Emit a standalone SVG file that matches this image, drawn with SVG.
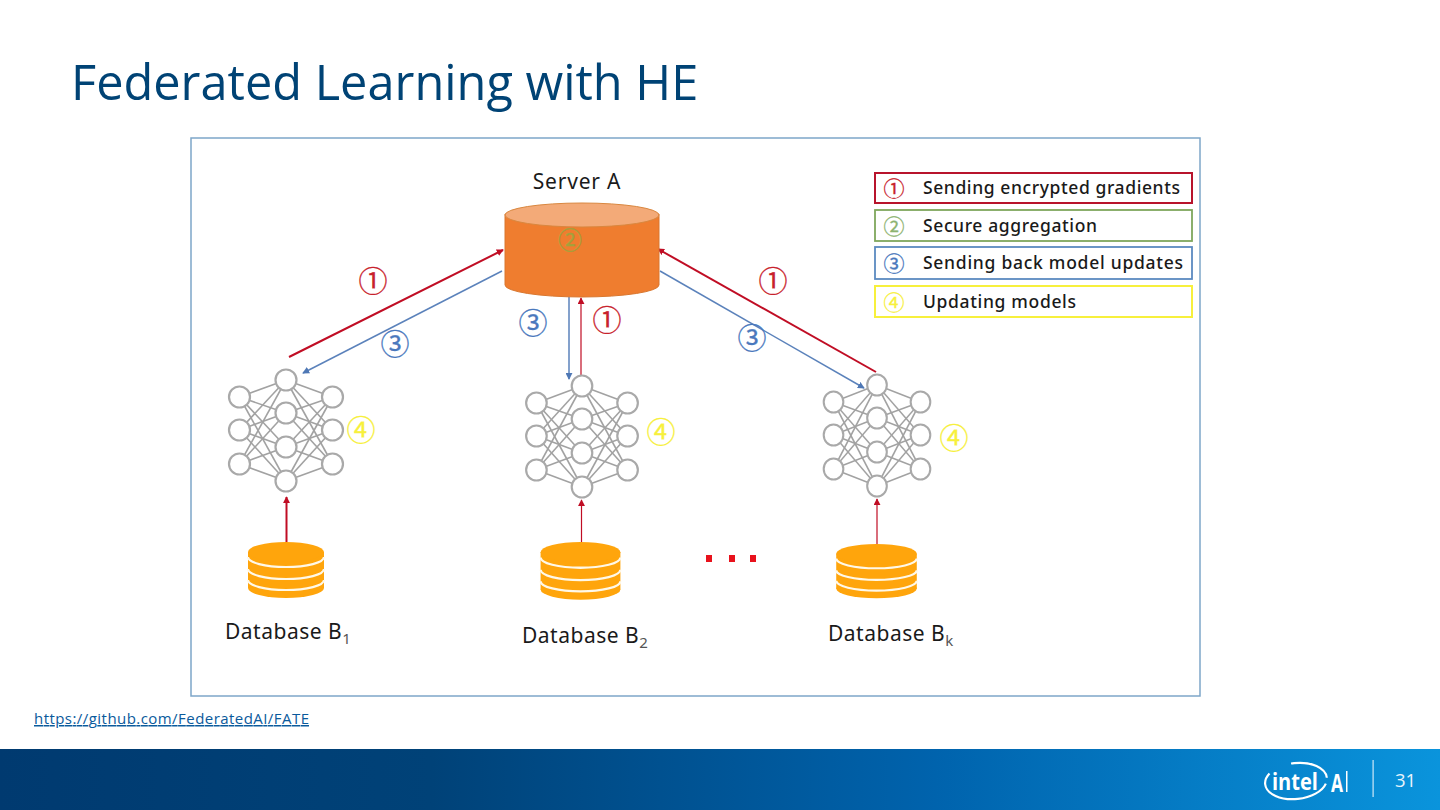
<svg xmlns="http://www.w3.org/2000/svg" width="1440" height="810" viewBox="0 0 1440 810">
<style>
.t{font-family:"Open Sans","Noto Sans",sans-serif}
.l{font-family:"Noto Sans","Open Sans",sans-serif;fill:#1a1a1a}
.lg{font-family:"Noto Sans","Open Sans",sans-serif;fill:#1a1a1a;font-size:17.5px;font-weight:500}
.c{font-family:"Noto Sans CJK SC","DejaVu Sans",sans-serif;text-anchor:middle;stroke-width:.3}
.c1{fill:#c8222c;stroke:#c8222c}.c2{fill:#8db36f;stroke:#8db36f}.c3{fill:#4a78bd;stroke:#4a78bd}.c4{fill:#f7f03c;stroke:#f7f03c}
.red{stroke:#c00d24;fill:none}
.blue{stroke:#5b82bb;fill:none}
.nn line{stroke:#a2a2a2;stroke-width:1.600}
.nn circle{fill:#fff;stroke:#a9a9a9;stroke-width:2.200}
.disk{fill:#ffa50c}
.gap{fill:none;stroke:#fff8e8;stroke-width:2.200}
</style>
<defs>
<linearGradient id="bar" x1="0" x2="1" y1="0" y2="0">
<stop offset="0" stop-color="#003a70"/><stop offset=".3" stop-color="#004278"/><stop offset=".65" stop-color="#0063ad"/><stop offset="1" stop-color="#0a94dc"/>
</linearGradient>
<marker id="ar" viewBox="0 0 8 8" refX="7" refY="4" markerWidth="7" markerHeight="7" markerUnits="userSpaceOnUse" orient="auto"><path d="M0 0L8 4L0 8Z" fill="#c00d24"/></marker>
<marker id="ab" viewBox="0 0 8 8" refX="7" refY="4" markerWidth="7" markerHeight="7" markerUnits="userSpaceOnUse" orient="auto"><path d="M0 0L8 4L0 8Z" fill="#4f78b5"/></marker>
<g id="net" class="nn">
<line x1="-46.500" y1="-33" x2="0" y2="-50"/><line x1="-46.500" y1="-33" x2="0" y2="-17"/><line x1="-46.500" y1="-33" x2="0" y2="17"/><line x1="-46.500" y1="-33" x2="0" y2="51"/>
<line x1="-46.500" y1="0" x2="0" y2="-50"/><line x1="-46.500" y1="0" x2="0" y2="-17"/><line x1="-46.500" y1="0" x2="0" y2="17"/><line x1="-46.500" y1="0" x2="0" y2="51"/>
<line x1="-46.500" y1="34" x2="0" y2="-50"/><line x1="-46.500" y1="34" x2="0" y2="-17"/><line x1="-46.500" y1="34" x2="0" y2="17"/><line x1="-46.500" y1="34" x2="0" y2="51"/>
<line x1="46.500" y1="-33" x2="0" y2="-50"/><line x1="46.500" y1="-33" x2="0" y2="-17"/><line x1="46.500" y1="-33" x2="0" y2="17"/><line x1="46.500" y1="-33" x2="0" y2="51"/>
<line x1="46.500" y1="0" x2="0" y2="-50"/><line x1="46.500" y1="0" x2="0" y2="-17"/><line x1="46.500" y1="0" x2="0" y2="17"/><line x1="46.500" y1="0" x2="0" y2="51"/>
<line x1="46.500" y1="34" x2="0" y2="-50"/><line x1="46.500" y1="34" x2="0" y2="-17"/><line x1="46.500" y1="34" x2="0" y2="17"/><line x1="46.500" y1="34" x2="0" y2="51"/>
<circle cx="-46.500" cy="-33" r="10.500"/><circle cx="-46.500" cy="0" r="10.500"/><circle cx="-46.500" cy="34" r="10.500"/>
<circle cx="0" cy="-50" r="10.500"/><circle cx="0" cy="-17" r="10.500"/><circle cx="0" cy="17" r="10.500"/><circle cx="0" cy="51" r="10.500"/>
<circle cx="46.500" cy="-33" r="10.500"/><circle cx="46.500" cy="0" r="10.500"/><circle cx="46.500" cy="34" r="10.500"/>
</g>
<g id="db">
<ellipse class="disk" cx="0" cy="46" rx="38" ry="10"/>
<rect class="disk" x="-38" y="10" width="76" height="36"/>
<ellipse class="disk" cx="0" cy="10" rx="38" ry="10"/>
<path class="gap" d="M-38 15A38 10 0 0 0 38 15"/>
<path class="gap" d="M-38 27A38 10 0 0 0 38 27"/>
<path class="gap" d="M-38 38A38 10 0 0 0 38 38"/>
</g>
</defs>
<rect width="1440" height="810" fill="#fff"/>
<text class="t" x="71" y="100" font-size="48.700" fill="#004375">Federated Learning with HE</text>
<rect id="frame" x="191" y="138" width="1009" height="558" fill="#fff" stroke="#7ea6c9" stroke-width="1.500"/>

<g id="connectors">
<path class="red" stroke-width="2" d="M289 357L503 250" marker-end="url(#ar)"/>
<path class="blue" stroke-width="1.500" d="M502 271L303 373" marker-end="url(#ab)"/>
<path class="blue" stroke-width="1.500" d="M569 297V379" marker-end="url(#ab)"/>
<path class="red" stroke-width="1.200" d="M581 375V298" marker-end="url(#ar)"/>
<path class="red" stroke-width="2" d="M876 372L658 249" marker-end="url(#ar)"/>
<path class="blue" stroke-width="1.500" d="M660 271L864 388" marker-end="url(#ab)"/>
<path class="red" stroke-width="2" d="M286.500 542V497" marker-end="url(#ar)"/>
<path class="red" stroke-width="1.200" d="M581.500 542V500" marker-end="url(#ar)"/>
<path class="red" stroke-width="1.200" d="M877 544V499" marker-end="url(#ar)"/>
</g>

<g id="server-a">
<text class="l" x="577" y="189" font-size="21" text-anchor="middle" letter-spacing=".8">Server A</text>
<path d="M505 214V285A77 12 0 0 0 659 285V214Z" fill="#ef7d2f" stroke="#d9772f"/>
<ellipse cx="582" cy="215" rx="77" ry="12" fill="#f3aa78" stroke="#d9873f"/>
<text class="c" x="570" y="249" font-size="24" fill="#a4a13c" stroke="#a4a13c">②</text>
</g>

<g id="node-b1">
<use href="#net" x="286" y="430"/>
<use href="#db" x="286" y="542"/>
<text class="l" x="225" y="639" font-size="21" letter-spacing=".5">Database B<tspan font-size="15" dy="5" fill="#555">1</tspan></text>
</g>
<g id="node-b2">
<use href="#net" transform="translate(582 436) scale(.98 1)"/>
<use href="#db" transform="translate(580.500 542) scale(1.050 1.030)"/>
<text class="l" x="522" y="643" font-size="21" letter-spacing=".5">Database B<tspan font-size="15" dy="5" fill="#555">2</tspan></text>
</g>
<g id="node-bk">
<use href="#net" transform="translate(877 435) scale(.935 1)"/>
<use href="#db" transform="translate(876.500 544) scale(1.060 .97)"/>
<text class="l" x="828" y="641" font-size="21" letter-spacing=".5">Database B<tspan font-size="15" dy="5" fill="#555">k</tspan></text>
</g>

<g id="connector-labels">
<text class="c c1" x="373" y="292" font-size="29">①</text>
<text class="c c3" x="395" y="355" font-size="29">③</text>
<text class="c c3" x="533" y="334" font-size="29">③</text>
<text class="c c1" x="607" y="331" font-size="29">①</text>
<text class="c c1" x="773" y="292" font-size="29">①</text>
<text class="c c3" x="752" y="349" font-size="29">③</text>
<text class="c c4" x="361" y="441" font-size="29">④</text>
<text class="c c4" x="661" y="443" font-size="29">④</text>
<text class="c c4" x="954" y="449" font-size="29">④</text>
</g>

<g id="dots" fill="#e8121c">
<rect x="706" y="555" width="6" height="7"/><rect x="729" y="555" width="6" height="7"/><rect x="750" y="555" width="6" height="7"/>
</g>

<g id="legend">
<g id="legend-1"><rect x="875" y="173" width="317" height="30" fill="#fff" stroke="#b8142c" stroke-width="2"/>
<text class="c c1" x="894" y="196" font-size="21">①</text><text class="lg" x="923" y="194" textLength="257">Sending encrypted gradients</text></g>
<g id="legend-2"><rect x="875" y="210" width="317" height="31" fill="#fff" stroke="#7fa75c" stroke-width="1.800"/>
<text class="c c2" x="894" y="234" font-size="21">②</text><text class="lg" x="923" y="232" textLength="174">Secure aggregation</text></g>
<g id="legend-3"><rect x="875" y="247" width="317" height="32" fill="#fff" stroke="#5b8ac0" stroke-width="1.800"/>
<text class="c c3" x="894" y="271" font-size="21">③</text><text class="lg" x="923" y="269" textLength="260">Sending back model updates</text></g>
<g id="legend-4"><rect x="875" y="286" width="317" height="31" fill="#fff" stroke="#f7f03c" stroke-width="2"/>
<text class="c c4" x="894" y="310" font-size="21">④</text><text class="lg" x="923" y="308" textLength="153">Updating models</text></g>
</g>

<text id="source" class="t" x="34" y="724" font-size="15" fill="#0a5a9c" text-decoration="underline" textLength="275">https://github.com/FederatedAI/FATE</text>

<g id="footer">
<rect y="749" width="1440" height="61" fill="url(#bar)"/>
<ellipse cx="1296" cy="781" rx="31" ry="18" fill="none" stroke="#fff" stroke-width="2.200" transform="rotate(-6 1296 781)" stroke-dasharray="84 24" stroke-dashoffset="-6"/>
<text class="t" x="1272" y="790" font-size="23" font-weight="700" fill="#fff" textLength="46" lengthAdjust="spacingAndGlyphs">intel</text>
<text class="t" x="1331" y="792" font-size="25" font-weight="700" fill="#fff" textLength="12" lengthAdjust="spacingAndGlyphs">A</text>
<rect x="1346" y="771" width="1.500" height="21" fill="#fff"/>
<rect x="1372.500" y="760" width="1.200" height="37" fill="#cfe8f8"/>
<text class="t" x="1395" y="787" font-size="18.500" fill="#e8f4fc">31</text>
</g>
</svg>
